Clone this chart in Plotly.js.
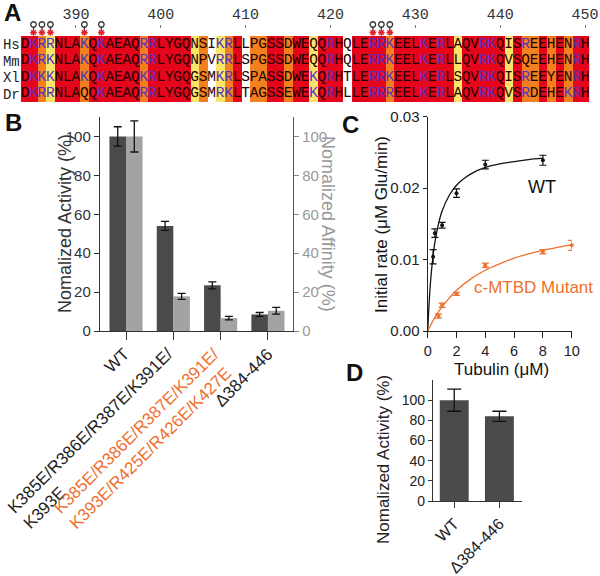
<!DOCTYPE html>
<html><head><meta charset="utf-8">
<script src="https://cdn.plot.ly/plotly-3.0.1.min.js"></script>
<style>html,body{margin:0;padding:0;background:#fff}#plot{width:600px;height:576px}</style>
</head><body><div id="plot"></div>
<script>
// ---------- Panel A: alignment ----------
const species = ["Hs", "Mm", "Xl", "Dr"];
const seqHs = "DKRRNLAKQKAEAQRRLYGQNSIKRLLPGSSDWEQQRHQLERRKEELKERLAQVRKQISREEHENRH";
const seqMm = "DKRKNLAKQKAEAQRRLYGQNPVRRLSPGSSDWEQQRHQLERRKEELKERLLQVRKQVSQEEHENRH";
const seqXl = "DKKKNLAKQKAEAQKRLYGQGSMKRLSPASSDWEKQRHTLERRKEELKERLSQVRKQISREEYENRH";
const seqDr = "DKRRNLAQQKAEAQRRLYGQGSMRKLTAGSSEWEKQRHLLERRREELKERLAQVRKQVSRDEHEKRH";
const firstResidue = 384;
// column conservation class: 0 white, 1 yellow, 2 orange, 3 red
const colClass = [3,3,2,1,3,3,3,2,3,3,3,3,3,3,2,3,
                  3,3,3,3,1,2,0,1,2,3,
                  0,2,2,3,3,2,3,
                  3,1,3,3,3,0,3,3,3,3,2,
                  3,3,3,3,3,3,3,
                  1,3,3,3,3,3,1,3,2,2,3,2,3,2,3,3];
const posTicks = [390, 400, 410, 420, 430, 440, 450];
const markedResidues = [385, 386, 387, 391, 393, 425, 426, 427];

// ---------- Panel B ----------
const catB = ["WT", "K385E/R386E/R387E/K391E/<br>K393E", "K385E/R386E/R387E/K391E/<br>K393E/R425E/R426E/K427E", "Δ384-446"];
const catBColor = ["#222", "#222", "#ef6f2e", "#222"];
const activityB = [100, 54, 23.5, 8.5];
const activityErrB = [5, 2.3, 1.8, 1.0];
const affinityB = [100, 17.8, 6.6, 10.4];
const affinityErrB = [8, 1.5, 0.9, 1.7];

// ---------- Panel C ----------
const wtX = [0.375, 0.5, 1, 2, 4, 8];
const wtY = [0.0104, 0.0137, 0.0148, 0.0193, 0.0233, 0.0239];
const wtErr = [0.0010, 0.0006, 0.0004, 0.0006, 0.0006, 0.0007];
const mutX = [0.75, 1, 2, 4, 8, 10];
const mutY = [0.0021, 0.0036, 0.0052, 0.0092, 0.0111, 0.0120];
const mutErr = [0.0003, 0.0003, 0.0002, 0.0003, 0.0003, 0.0007];
const wtFitX = [0, 0.1, 0.2, 0.3, 0.4, 0.5, 0.75, 1, 1.5, 2, 2.5, 3, 4, 5, 6, 7, 8];
const wtFitY = [0, 0.0040, 0.0070, 0.0092, 0.0110, 0.0124, 0.0150, 0.0168, 0.0190, 0.0204, 0.0213, 0.0220, 0.0229, 0.0234, 0.0237, 0.0240, 0.0242];
const mutFitX = [0, 0.5, 1, 1.5, 2, 3, 4, 5, 6, 7, 8, 9, 10];
const mutFitY = [0, 0.0019, 0.0034, 0.0046, 0.0057, 0.0073, 0.0085, 0.0094, 0.0102, 0.0108, 0.0113, 0.0117, 0.0121];

// ---------- Panel D ----------
const catD = ["WT", "Δ384-446"];
const activityD = [100, 84];
const activityErrD = [11, 5];

// ---------- build ----------
const FONT = "Liberation Sans, Arial, sans-serif";
const MONO = "Liberation Mono, Courier New, monospace";
const ORANGE = "#ef6f2e";
const W = 600, H = 576;
const px = v => v / W, py = v => 1 - v / H;

const seqs = [seqHs, seqMm, seqXl, seqDr];
const positions = colClass.map((_, i) => firstResidue + i);
const zRows = seqs.map(() => colClass.slice());
const txtX = [], txtY = [], txt = [], txtC = [];
seqs.forEach((s, r) => {
  for (let i = 0; i < s.length; i++) {
    txtX.push(firstResidue + i); txtY.push(r); txt.push(s[i]);
    txtC.push((s[i] === "K" || s[i] === "R") ? "#5530c8" : "#220000");
  }
});

const traces = [
  {type: "heatmap", x: positions, y: [0, 1, 2, 3], z: zRows, xaxis: "x", yaxis: "y",
   zmin: -0.5, zmax: 3.5, showscale: false, hoverinfo: "skip",
   colorscale: [[0, "#ffffff"], [0.25, "#ffffff"], [0.25, "#f9e46a"], [0.5, "#f9e46a"],
                [0.5, "#f3801f"], [0.75, "#f3801f"], [0.75, "#e5061c"], [1, "#e5061c"]]},
  {type: "scatter", mode: "text", x: txtX, y: txtY, text: txt, xaxis: "x", yaxis: "y",
   textfont: {family: MONO, size: 14.5, color: txtC}, hoverinfo: "skip", cliponaxis: false},
  {type: "scatter", mode: "markers", x: markedResidues, y: markedResidues.map(() => 24.5), xaxis: "x", yaxis: "y6",
   marker: {symbol: "circle-open", size: 5.5, color: "#333", line: {width: 1.3, color: "#333"}}, cliponaxis: false, hoverinfo: "skip"},
  {type: "scatter", mode: "markers", x: markedResidues, y: markedResidues.map(() => 28.3), xaxis: "x", yaxis: "y6",
   marker: {symbol: "line-ns-open", size: 2.5, color: "#333", line: {width: 1.2, color: "#333"}}, cliponaxis: false, hoverinfo: "skip"},
  {type: "scatter", mode: "markers", x: markedResidues, y: markedResidues.map(() => 32.5), xaxis: "x", yaxis: "y6",
   marker: {symbol: "asterisk-open", size: 5.5, color: "#e0202a", line: {width: 1.4, color: "#e0202a"}}, cliponaxis: false, hoverinfo: "skip"},

  {type: "bar", x: [0, 1, 2, 3], y: activityB, xaxis: "x2", yaxis: "y2", width: 0.35, offset: -0.35,
   marker: {color: "#4a4a4a"},
   error_y: {type: "data", array: activityErrB, color: "#111", thickness: 1.3, width: 4}},
  {type: "bar", x: [0, 1, 2, 3], y: affinityB, xaxis: "x2", yaxis: "y3", width: 0.35, offset: 0,
   marker: {color: "#a3a3a3"},
   error_y: {type: "data", array: affinityErrB, color: "#111", thickness: 1.3, width: 4}},

  {type: "scatter", mode: "lines", x: wtFitX, y: wtFitY, xaxis: "x3", yaxis: "y4",
   line: {color: "#111", width: 1.3, shape: "spline"}, cliponaxis: false},
  {type: "scatter", mode: "lines", x: mutFitX, y: mutFitY, xaxis: "x3", yaxis: "y4",
   line: {color: ORANGE, width: 1.3, shape: "spline"}, cliponaxis: false},
  {type: "scatter", mode: "markers", x: wtX, y: wtY, xaxis: "x3", yaxis: "y4",
   marker: {color: "#111", size: 4},
   error_y: {type: "data", array: wtErr, color: "#111", thickness: 1.2, width: 3.5}, cliponaxis: false},
  {type: "scatter", mode: "markers", x: mutX, y: mutY, xaxis: "x3", yaxis: "y4",
   marker: {color: ORANGE, size: 4},
   error_y: {type: "data", array: mutErr, color: ORANGE, thickness: 1.2, width: 3.5}, cliponaxis: false},

  {type: "bar", x: [0, 1], y: activityD, xaxis: "x4", yaxis: "y5", width: 0.64,
   marker: {color: "#4a4a4a"},
   error_y: {type: "data", array: activityErrD, color: "#111", thickness: 1.3, width: 7}}
];

const noGrid = {showgrid: false, zeroline: false, fixedrange: true};
const layout = {
  width: W, height: H, margin: {l: 0, r: 0, t: 0, b: 0},
  paper_bgcolor: "#fff", plot_bgcolor: "rgba(0,0,0,0)", showlegend: false,
  font: {family: FONT, color: "#222"},
  xaxis: Object.assign({}, noGrid, {domain: [px(20.75), px(589.25)], range: [383.5, 450.5],
    anchor: "free", position: py(28), side: "top", tickvals: posTicks, ticks: "outside", ticklen: 3,
    tickcolor: "#777", showline: false, tickfont: {family: MONO, size: 15, color: "#333"}}),
  yaxis: Object.assign({}, noGrid, {domain: [py(102), py(36)], range: [3.5, -0.5], anchor: "x",
    tickvals: [0, 1, 2, 3], ticktext: species, ticks: "", showline: false,
    tickfont: {family: MONO, size: 14, color: "#222"}}),
  yaxis6: Object.assign({}, noGrid, {domain: [py(37), py(18)], range: [37, 18], anchor: "x", visible: false}),

  xaxis2: Object.assign({}, noGrid, {domain: [px(100), px(293)], range: [-0.55, 3.53], anchor: "y2",
    showline: true, linecolor: "#333", linewidth: 1.2, ticks: "outside", ticklen: 8, tickcolor: "#333",
    tickvals: [0, 1, 2, 3], showticklabels: false}),
  yaxis2: Object.assign({}, noGrid, {domain: [py(331), py(117)], range: [0, 110], anchor: "x2",
    tickvals: [0, 20, 40, 60, 80, 100], ticks: "outside", ticklen: 5, tickcolor: "#333",
    showline: true, linecolor: "#333", linewidth: 1.2, tickfont: {size: 15, color: "#333"}}),
  yaxis3: Object.assign({}, noGrid, {overlaying: "y2", side: "right", anchor: "x2", range: [0, 110],
    tickvals: [0, 20, 40, 60, 80, 100], ticks: "outside", ticklen: 5, tickcolor: "#888",
    showline: true, linecolor: "#555", linewidth: 1.2, tickfont: {size: 15, color: "#999"}}),

  xaxis3: Object.assign({}, noGrid, {domain: [px(427.7), px(571.7)], range: [0, 10], anchor: "y4",
    tickvals: [0, 2, 4, 6, 8, 10], ticks: "outside", ticklen: 6, tickcolor: "#222",
    showline: true, linecolor: "#222", linewidth: 1.2, tickfont: {size: 14.5, color: "#222"}}),
  yaxis4: Object.assign({}, noGrid, {domain: [py(331), py(116.7)], range: [0, 0.03], anchor: "x3",
    tickvals: [0, 0.01, 0.02, 0.03], tickformat: ".2f", ticks: "outside", ticklen: 4, tickcolor: "#222",
    showline: true, linecolor: "#222", linewidth: 1.2, tickfont: {size: 15, color: "#222"}}),

  xaxis4: Object.assign({}, noGrid, {domain: [px(433), px(522)], range: [-0.47, 1.5], anchor: "y5",
    tickvals: [0, 1], ticktext: catD, tickangle: -45, ticks: "outside", ticklen: 6, tickcolor: "#333",
    showline: true, linecolor: "#333", linewidth: 1.2, tickfont: {size: 16, color: "#222"}}),
  yaxis5: Object.assign({}, noGrid, {domain: [py(501), py(380)], range: [0, 120], anchor: "x4",
    tickvals: [0, 20, 40, 60, 80, 100], ticks: "outside", ticklen: 4, tickcolor: "#333",
    showline: true, linecolor: "#333", linewidth: 1.2, tickfont: {size: 14, color: "#222"}}),
  annotations: []
};

const A = layout.annotations;
function ann(o) { A.push(Object.assign({showarrow: false, xref: "paper", yref: "paper", xanchor: "center", yanchor: "middle",
  font: {family: FONT, size: 17, color: "#222"}}, o)); }
// panel letters
[["A", 12, 13], ["B", 13, 123], ["C", 350, 124], ["D", 354, 372]].forEach(([t, x, y]) =>
  ann({text: "<b>" + t + "</b>", x: px(x), y: py(y), font: {family: FONT, size: 24, color: "#111"}}));
// axis titles
ann({text: "Nomalized Activity (%)", x: px(65), y: py(224), textangle: -90, font: {family: FONT, size: 18, color: "#333"}});
ann({text: "Nomalized Affinity (%)", x: px(328), y: py(224), textangle: 90, font: {family: FONT, size: 18, color: "#999"}});
ann({text: "Initial rate (μM Glu/min)", x: px(381), y: py(225), textangle: -90, font: {family: FONT, size: 17, color: "#111"}});
ann({text: "Tubulin (μM)", x: px(501), y: py(369), font: {family: FONT, size: 17, color: "#111"}});
ann({text: "Nomalized Activity (%)", x: px(383), y: py(460), textangle: -90, font: {family: FONT, size: 17, color: "#222"}});
// series labels in C
ann({text: "WT", x: px(542), y: py(187), font: {family: FONT, size: 18, color: "#111"}});
ann({text: "c-MTBD Mutant", x: px(533), y: py(287), font: {family: FONT, size: 17, color: ORANGE}});
// B category labels
const shiftB = [10, 22, 21, 12];
catB.forEach((t, i) => A.push({text: t, x: i, xref: "x2", y: py(342), yref: "paper", xshift: shiftB[i],
  xanchor: "right", yanchor: "top", textangle: -45, align: "left", showarrow: false,
  font: {family: FONT, size: 17, color: catBColor[i]}}));

Plotly.newPlot("plot", traces, layout, {staticPlot: true});
</script></body></html>
